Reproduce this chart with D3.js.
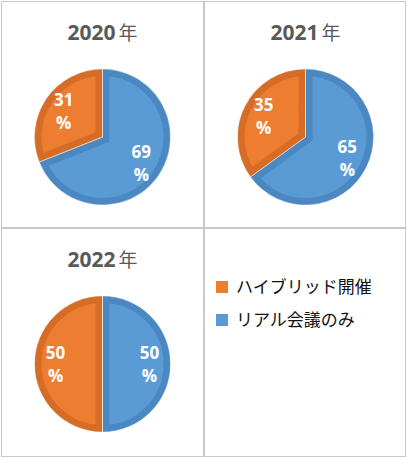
<!DOCTYPE html>
<html>
<head>
<meta charset="utf-8">
<script src="https://cdn.jsdelivr.net/npm/d3@7"></script>
<style>
  body { margin: 0; background: #fff; }
  svg { display: block; }
</style>
</head>
<body>
<svg id="chart"></svg>
<script>
// data
const years = ["2020年", "2021年", "2022年"];
const categories = ["リアル会議のみ", "ハイブリッド開催"];
const realOnly = [69, 65, 50];
const hybrid = [31, 35, 50];
const legendOrder = ["ハイブリッド開催", "リアル会議のみ"];

const colors = { "リアル会議のみ": "#5B9BD5", "ハイブリッド開催": "#ED7D31" };
const edgeColors = { "リアル会議のみ": "#4B88C2", "ハイブリッド開催": "#D66D26" };

const W = 408, H = 458;
const svg = d3.select("#chart").attr("width", W).attr("height", H);

// panel frames
const panels = [
    {x: 1, y: 1, w: 203, h: 227},
    {x: 204, y: 1, w: 202, h: 227},
    {x: 1, y: 228, w: 203, h: 229},
    {x: 204, y: 228, w: 202, h: 229},
];
svg.selectAll("rect.frame")
    .data(panels)
    .enter()
    .append("rect")
    .attr("class", "frame")
    .attr("x", d => d.x + 0.5)
    .attr("y", d => d.y + 0.5)
    .attr("width", d => d.w - 1)
    .attr("height", d => d.h - 1)
    .attr("fill", "none")
    .attr("stroke", "#c9c9c9");

const radius = 68;
const pie = d3.pie().sort(null).value(d => d.value);
const arc = d3.arc().innerRadius(0).outerRadius(radius);
const labelArc = d3.arc().innerRadius(radius * 0.69).outerRadius(radius * 0.69);

years.forEach(function(year, i) {
    const p = panels[i];
    const cx = p.x + 101.5, cy = p.y + 136;

    const g = svg.append("g");

    // title: digits bold, 年 in normal weight
    const title = g.append("text")
        .attr("x", cx)
        .attr("y", p.y + 39)
        .attr("text-anchor", "middle")
        .attr("fill", "#595959");
    title.append("tspan")
        .attr("font-family", "'Open Sans', sans-serif")
        .attr("font-weight", "bold")
        .attr("font-size", 21)
        .text(year.slice(0, 4));
    title.append("tspan")
        .attr("dx", 3)
        .attr("font-family", "'Noto Sans CJK JP', sans-serif")
        .attr("font-size", 19)
        .text(year.slice(4));

    const data = [
        {key: categories[0], value: realOnly[i]},
        {key: categories[1], value: hybrid[i]},
    ];
    const slices = pie(data);

    const pg = g.append("g").attr("transform", `translate(${cx},${cy})`);

    // clip each slice to itself so the stroke forms an inner bevel band
    const defs = svg.append("defs");
    slices.forEach(function(s, j) {
        defs.append("clipPath")
            .attr("id", `clip-${i}-${j}`)
            .append("path")
            .attr("d", arc(s));
    });

    pg.selectAll("path.slice")
        .data(slices)
        .enter()
        .append("path")
        .attr("class", "slice")
        .attr("d", arc)
        .attr("clip-path", (d, j) => `url(#clip-${i}-${j})`)
        .attr("fill", d => colors[d.data.key])
        .attr("stroke", d => edgeColors[d.data.key])
        .attr("stroke-width", 14)
        .attr("stroke-linejoin", "miter");

    // thin light seams between slices
    pg.selectAll("path.seam")
        .data(slices)
        .enter()
        .append("path")
        .attr("class", "seam")
        .attr("d", arc)
        .attr("fill", "none")
        .attr("stroke", "#ffffff")
        .attr("stroke-opacity", 0.5)
        .attr("stroke-width", 0.8);

    const labels = pg.selectAll("text.lbl")
        .data(slices)
        .enter()
        .append("text")
        .attr("class", "lbl")
        .attr("text-anchor", "middle")
        .attr("font-family", "'Open Sans', sans-serif")
        .attr("font-weight", "bold")
        .attr("font-size", 17)
        .attr("fill", "#ffffff")
        .attr("transform", d => `translate(${labelArc.centroid(d)})`);
    labels.append("tspan")
        .attr("x", 0)
        .attr("y", -5)
        .text(d => d.data.value);
    labels.append("tspan")
        .attr("x", 0)
        .attr("y", 18)
        .text("%");
});

// legend in the empty fourth panel
const lp = panels[3];
const legend = svg.append("g")
    .selectAll("g")
    .data(legendOrder)
    .enter()
    .append("g")
    .attr("transform", (d, i) => `translate(${lp.x + 12},${lp.y + 53 + i * 33})`);
legend.append("rect")
    .attr("width", 12)
    .attr("height", 12)
    .attr("fill", d => colors[d]);
legend.append("text")
    .attr("x", 20)
    .attr("y", 12)
    .attr("font-family", "'Noto Sans CJK JP', sans-serif")
    .attr("font-size", 17)
    .attr("fill", "#111")
    .text(d => d);
</script>
</body>
</html>
